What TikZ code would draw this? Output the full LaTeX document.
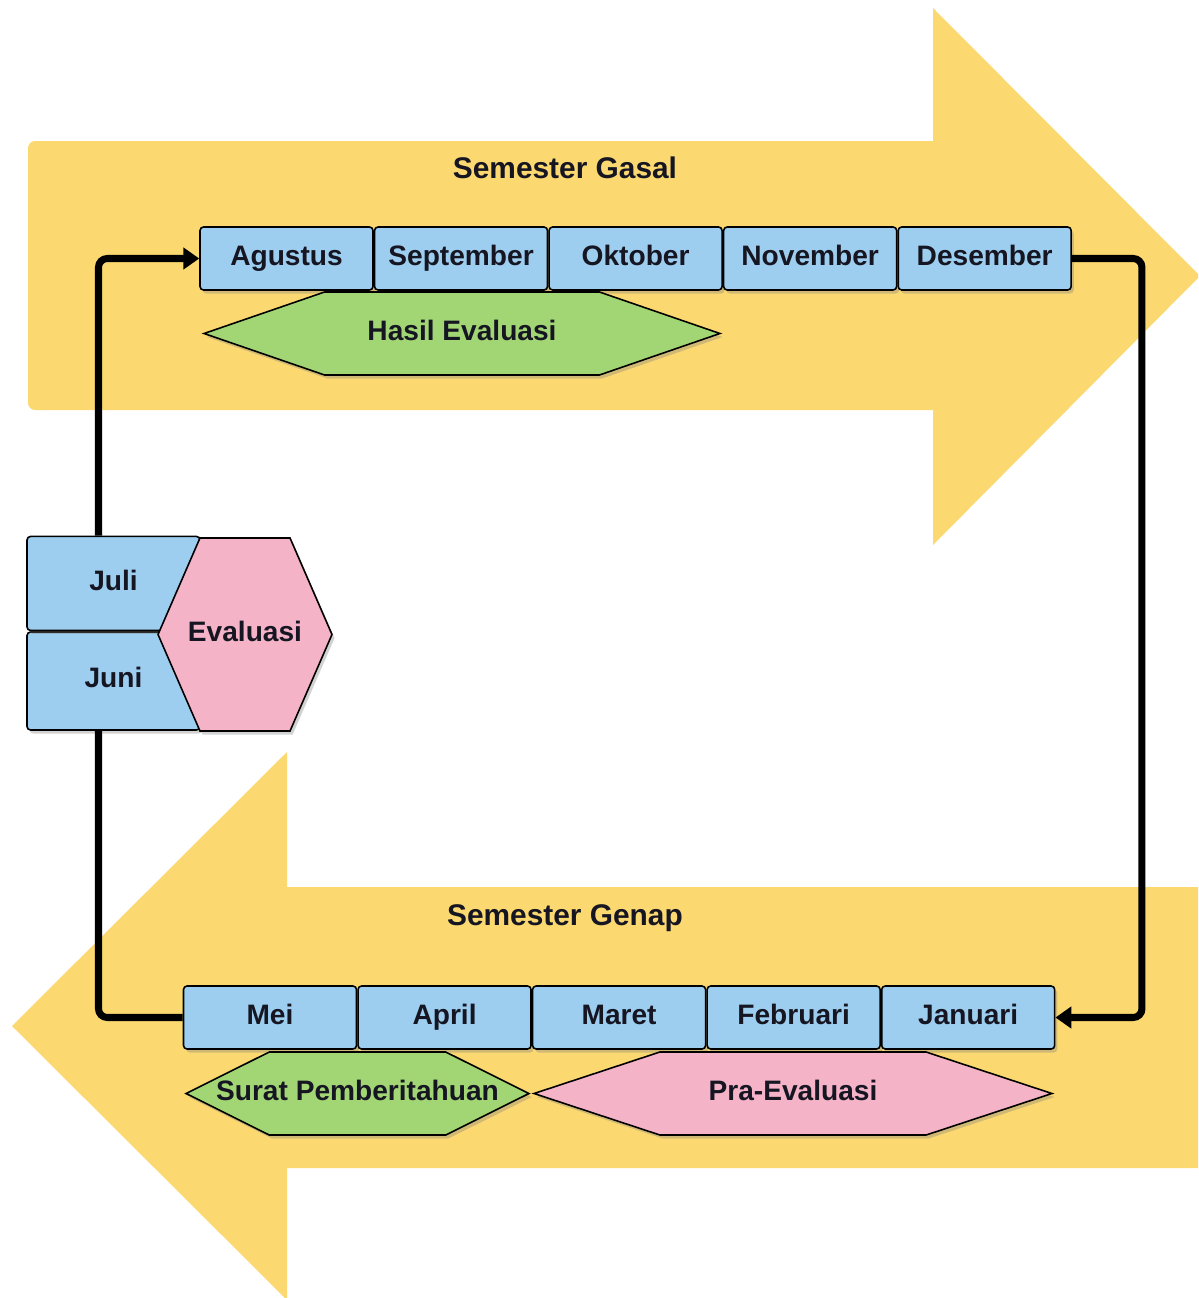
\documentclass[tikz,border=0pt]{standalone}
\usepackage{fontspec}
\setmainfont{Liberation Sans}
\usepackage{xcolor}
\usetikzlibrary{positioning,shapes.symbols,shadows,arrows.meta}
\definecolor{arrowyellow}{HTML}{FCD970}
\definecolor{monthblue}{HTML}{9DCEF0}
\definecolor{evalgreen}{HTML}{A2D675}
\definecolor{evalpink}{HTML}{F4B3C6}
\definecolor{textdark}{HTML}{161622}

\tikzset{
  month/.style = {fill = monthblue, draw, line width = 0.9pt, rectangle, rounded corners = 2pt, minimum width = 3.46cm, minimum height = 1.26cm, inner sep = 0pt, text height = 11pt, text depth = 3.5pt, font = \fontsize{16}{19}\selectfont\bfseries, text = textdark, drop shadow = {shadow xshift = 1.5pt, shadow yshift = -2pt, opacity = 0.35}},
  phase/.style = {draw, line width = 0.9pt, shape = signal, signal to = east and west, minimum height = 1.66cm, inner sep = 0pt, drop shadow = {shadow xshift = 1.5pt, shadow yshift = -2pt, opacity = 0.35}},
  phase text/.style = {inner sep = 0pt, text height = 11pt, text depth = 3.5pt, font = \fontsize{16}{19}\selectfont\bfseries, text = textdark},
  link/.style = {line width = 4pt, rounded corners = 5pt},
  title/.style = {font = \fontsize{17}{20}\selectfont\bfseries, text = textdark}
}

\begin{document}
\begin{tikzpicture}[x = 0.02cm, y = -0.02cm]
        \useasboundingbox (0, 0) rectangle (1198, 1298);
        \fill [white] (0, 0) rectangle (1198, 1298);
        \clip (0, 0) rectangle (1198, 1298);

        % Semester arrows
        \fill [arrowyellow, rounded corners = 4pt] (933, 141) -- (28, 141) -- (28, 410) [sharp corners] -- (933, 410) -- (933, 545) -- (1200, 276) -- (933, 8) -- cycle;
        \fill [arrowyellow] (1200, 887) -- (287, 887) -- (287, 752) -- (12, 1026) -- (287, 1300) -- (287, 1168) -- (1200, 1168) -- cycle;

        \node [title] (gasal) at (565, 168) {Semester Gasal};
        \node [title] (genap) at (565, 918) {Semester Genap};

        % Months
        \node [month] (agustus) at (286.5, 258.5) {Agustus};
        \node [month, right = 0cm of agustus] (september) {September};
        \node [month, right = 0cm of september] (oktober) {Oktober};
        \node [month, right = 0cm of oktober] (november) {November};
        \node [month, right = 0cm of november] (desember) {Desember};

        \node [month] (mei) at (270, 1017.5) {Mei};
        \node [month, right = 0cm of mei] (april) {April};
        \node [month, right = 0cm of april] (maret) {Maret};
        \node [month, right = 0cm of maret] (februari) {Februari};
        \node [month, right = 0cm of februari] (januari) {Januari};

        \node [month, minimum height = 1.96cm] (juni) at (113.5, 681) {Juni};
        \node [month, minimum height = 1.88cm, above = 0cm of juni] (juli) {Juli};

        % Phases
        \node [phase, fill = evalpink, minimum width = 3.48cm, minimum height = 3.86cm, signal pointer angle = 133, label = {[phase text]center:Evaluasi}] (evaluasi) at (245, 634.5) {};
        \node [phase, fill = evalgreen, minimum width = 10.32cm, signal pointer angle = 38, label = {[phase text]center:Hasil Evaluasi}] (hasil) at (462, 333.5) {};
        \node [phase, fill = evalgreen, minimum width = 6.86cm, signal pointer angle = 53, label = {[phase text]center:Surat Pemberitahuan}] (surat) at (357.5, 1093.5) {};
        \node [phase, fill = evalpink, minimum width = 10.36cm, signal pointer angle = 36.5, label = {[phase text]center:Pra-Evaluasi}] (pra) at (793, 1093.5) {};

        % Draw the links
        \draw [link, -{Triangle[length = 9pt, width = 12pt]}] ([xshift = -0.3cm]juli.north) |- (agustus.west);
        \draw [link, -{Triangle[length = 9pt, width = 12pt]}] (desember.east) -- ++(70, 0) |- (januari.east);
        \draw [link] (mei.west) -| ([xshift = -0.3cm]juni.south);

    \end{tikzpicture}
\end{document}
